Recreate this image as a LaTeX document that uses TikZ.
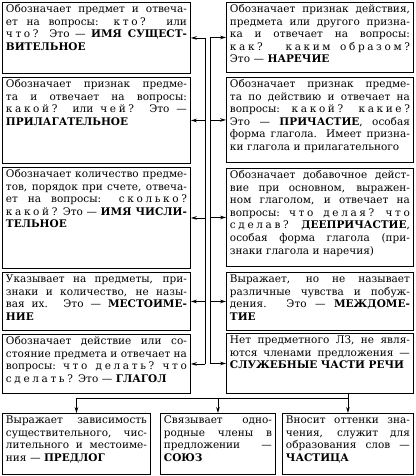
\documentclass[tikz,border=0pt]{standalone}
\usepackage{fontspec}
\setmainfont{DejaVu Serif}
\usetikzlibrary{positioning,arrows.meta}
\setlength{\parindent}{0pt}
% spaced question words and justified lines
\newcommand\q[1]{{\addfontfeature{LetterSpace=25}#1}}
\newcommand\jl[1]{\leavevmode\hbox to \hsize{\spaceskip=0pt\xspaceskip=0pt #1}}
\begin{document}
\begin{tikzpicture}[x=1pt,y=-1pt,>={Stealth[length=6pt,width=3.6pt]},
  part_box/.style={draw,line width=0.9pt,anchor=north west,inner xsep=3.5pt,inner ysep=2.5pt,
    text height=7.5pt,align=left,font=\fontsize{10.5}{12.6}\selectfont},
  left_box/.style={part_box,text width=181pt},
  right_box/.style={part_box,text width=180pt},
  link/.style={line width=0.8pt}]
\useasboundingbox (0,0) rectangle (415,476);
% left column
\node[left_box,text depth=58.5pt] (l1) at (2,2) {\jl{Обозначает предмет и отвеча-}\\
  \jl{ет на вопросы: \q{кто?} или}\\ \jl{\q{что?} Это — \textbf{ИМЯ СУЩЕСТ-}}\\ \textbf{ВИТЕЛЬНОЕ}};
\node[left_box,text depth=73.5pt] (l2) at (2,77) {\jl{Обозначает признак предме-}\\
  \jl{та и отвечает на вопросы:}\\ \jl{\q{какой?} или \q{чей?} Это —}\\ \textbf{ПРИЛАГАТЕЛЬНОЕ}};
\node[left_box,text depth=88.5pt] (l3) at (2,167) {\jl{Обозначает количество предме-}\\
  \jl{тов, порядок при счете, отвеча-}\\ \jl{ет на вопросы: \q{сколько?}}\\
  \jl{\q{какой?} Это — \textbf{ИМЯ ЧИСЛИ-}}\\ \textbf{ТЕЛЬНОЕ}};
\node[left_box,text depth=45.5pt] (l4) at (2,272) {\jl{Указывает на предметы, при-}\\
  \jl{знаки и количество, не назы-}\\ \jl{вая их. Это — \textbf{МЕСТОИМЕ-}}\\ \textbf{НИЕ}};
\node[left_box,text depth=46.5pt] (l5) at (2,334) {\jl{Обозначает действие или со-}\\
  \jl{стояние предмета и отвечает на}\\ \jl{вопросы: \q{что делать?} \q{что}}\\
  \q{сделать?} Это — \textbf{ГЛАГОЛ}};
% right column
\node[right_box,text depth=57.5pt] (r1) at (226,2) {\jl{Обозначает признак действия,}\\
  \jl{предмета или другого призна-}\\ \jl{ка и отвечает на вопросы:}\\
  \jl{\q{как?} \q{каким} \q{образом?}}\\ Это — \textbf{НАРЕЧИЕ}};
\node[right_box,text depth=72.5pt] (r2) at (226,77) {\jl{Обозначает признак предме-}\\
  \jl{та по действию и отвечает на}\\ \jl{вопросы: \q{какой?} \q{какие?}}\\
  \jl{Это — \textbf{ПРИЧАСТИЕ}, особая}\\ \jl{форма глагола. Имеет призна-}\\
  ки глагола и прилагательного};
\node[right_box,text depth=85.5pt] (r3) at (226,168) {\jl{Обозначает добавочное дейст-}\\
  \jl{вие при основном, выражен-}\\ \jl{ном глаголом, и отвечает на}\\
  \jl{вопросы: \q{что делая?} \q{что}}\\ \jl{\q{сделав?} \textbf{ДЕЕПРИЧАСТИЕ},}\\
  \jl{особая форма глагола (при-}\\ знаки глагола и наречия)};
\node[right_box,text depth=45.5pt] (r4) at (226,272) {\jl{Выражает, но не называет}\\
  \jl{различные чувства и побуж-}\\ \jl{дения. Это — \textbf{МЕЖДОМЕ-}}\\ \textbf{ТИЕ}};
\node[right_box,text depth=47.5pt] (r5) at (226,333) {\jl{Нет предметного ЛЗ, не явля-}\\
  \jl{ются членами предложения —}\\ \textbf{СЛУЖЕБНЫЕ ЧАСТИ РЕЧИ}};
% bottom row
\node[part_box,text width=141pt,text depth=48.5pt] (b1) at (2,413) {\jl{Выражает зависимость}\\
  \jl{существительного, чис-}\\ \jl{лительного и местоиме-}\\ ния — \textbf{ПРЕДЛОГ}};
\node[part_box,text width=108pt,text depth=48.5pt] (b2) at (160,413) {\jl{Связывает одно-}\\
  \jl{родные члены в}\\ \jl{предложении —}\\ \textbf{СОЮЗ}};
\node[part_box,text width=124pt,text depth=48.5pt] (b3) at (282,413) {\jl{Вносит оттенки зна-}\\
  \jl{чения, служит для}\\ \jl{образования слов —}\\ \textbf{ЧАСТИЦА}};
% spines
\coordinate (sl) at (205,0);
\coordinate (sr) at (210,0);
\coordinate (bus) at (0,398);
\draw[link] (l1.east -| sl) -- (l5.east -| sl);
\draw[link] (r1.west -| sr) -- (r5.west -| sr);
\foreach \i in {1,...,5}{
  \draw[link,->] (l\i.east -| sl) -- (l\i.east);
  \draw[link,->] (r\i.west -| sr) -- (r\i.west);
}
\draw[link,->] (b3.north |- r5.south) -- (b3.north);
\draw[link] (b1.north |- bus) -- (b3.north |- bus);
\draw[link,->] (b1.north |- bus) -- (b1.north);
\draw[link,->] (b2.north |- bus) -- (b2.north);
\end{tikzpicture}
\end{document}
